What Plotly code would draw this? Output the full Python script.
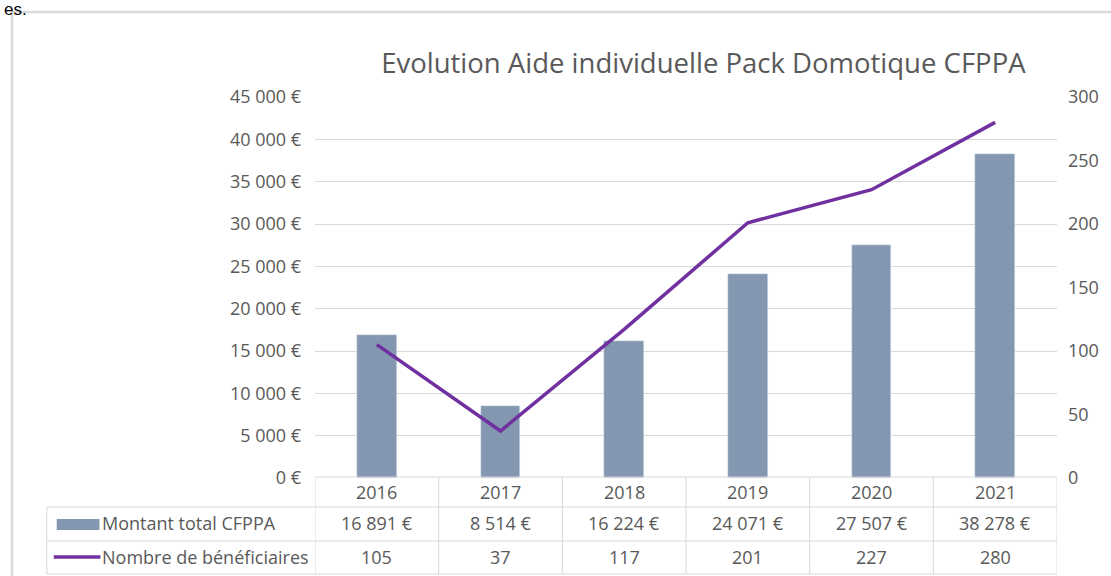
import plotly.graph_objects as go

# Data
years = ["2016", "2017", "2018", "2019", "2020", "2021"]
montant = [16891, 8514, 16224, 24071, 27507, 38278]
beneficiaires = [105, 37, 117, 201, 227, 280]
montant_labels = ["16 891 €", "8 514 €", "16 224 €", "24 071 €", "27 507 €", "38 278 €"]
left_ticks = [0, 5000, 10000, 15000, 20000, 25000, 30000, 35000, 40000, 45000]
left_tick_text = ["0 €", "5 000 €", "10 000 €", "15 000 €", "20 000 €", "25 000 €",
                  "30 000 €", "35 000 €", "40 000 €", "45 000 €"]
right_ticks = [0, 50, 100, 150, 200, 250, 300]
series_names = ["Montant total CFPPA", "Nombre de bénéficiaires"]
title_text = "Evolution Aide individuelle Pack Domotique CFPPA"

BAR_COLOR = "#8497B0"
LINE_COLOR = "#7030A0"
TEXT_COLOR = "#595959"
GRID_COLOR = "#D9D9D9"
FONT = "Open Sans"

W, H = 1111, 576
L, R, T, B = 315, 49, 97, 98
PW, PH = W - L - R, H - T - B


def px(x):
    return (x - L) / PW


def py(y):
    return 1 + (T - y) / PH


fig = go.Figure()
fig.add_trace(go.Bar(x=years, y=montant, name=series_names[0], marker_color=BAR_COLOR,
                     width=0.32, yaxis="y"))
fig.add_trace(go.Scatter(x=years, y=beneficiaires, name=series_names[1], mode="lines",
                         line=dict(color=LINE_COLOR, width=3.5), yaxis="y2"))

shapes = []
annotations = []
line_style = dict(color=GRID_COLOR, width=1)

# data table grid
row_y = [477, 507, 541, 574]
shapes.append(dict(type="line", xref="paper", yref="paper", x0=0, x1=1,
                   y0=py(row_y[0]), y1=py(row_y[0]), line=line_style))
for yy in row_y[1:]:
    shapes.append(dict(type="line", xref="paper", yref="paper", x0=px(45), x1=1,
                       y0=py(yy), y1=py(yy), line=line_style))
shapes.append(dict(type="line", xref="paper", yref="paper", x0=px(45), x1=px(45),
                   y0=py(row_y[1]), y1=py(row_y[3]), line=line_style))
for k in range(len(years) + 1):
    shapes.append(dict(type="line", xref="x", yref="paper", x0=k - 0.5, x1=k - 0.5,
                       y0=py(row_y[0]), y1=py(row_y[3]), line=line_style))

# outer chart frame
shapes.append(dict(type="rect", xref="paper", yref="paper", x0=px(10), x1=px(1130),
                   y0=py(600), y1=py(12), line=dict(color="#D9D9D9", width=2.5)))

# legend keys in the table
shapes.append(dict(type="rect", xref="paper", yref="paper", x0=px(55), x1=px(98),
                   y0=py(530), y1=py(519), fillcolor=BAR_COLOR, line=dict(width=0)))
shapes.append(dict(type="line", xref="paper", yref="paper", x0=px(52), x1=px(99),
                   y0=py(557), y1=py(557), line=dict(color=LINE_COLOR, width=3.5)))

cell_font = dict(family=FONT, size=18, color=TEXT_COLOR)
row_centers = [492, 523, 557]
for i, yr in enumerate(years):
    annotations.append(dict(x=i, xref="x", y=py(row_centers[0]), yref="paper", text=yr,
                            showarrow=False, font=cell_font, yanchor="middle"))
    annotations.append(dict(x=i, xref="x", y=py(row_centers[1]), yref="paper",
                            text=montant_labels[i], showarrow=False, font=cell_font,
                            yanchor="middle"))
    annotations.append(dict(x=i, xref="x", y=py(row_centers[2]), yref="paper",
                            text=str(beneficiaires[i]), showarrow=False, font=cell_font,
                            yanchor="middle"))
for name, yc in zip(series_names, row_centers[1:]):
    annotations.append(dict(x=px(99), xref="paper", y=py(yc), yref="paper", text=name,
                            showarrow=False, font=cell_font, xanchor="left",
                            yanchor="middle"))

# caption fragment above the frame
annotations.append(dict(x=px(0), xref="paper", y=py(-2), yref="paper", text="es.",
                        showarrow=False, xanchor="left", yanchor="top",
                        font=dict(family="Liberation Sans", size=17, color="#000000")))

fig.update_layout(
    width=W, height=H,
    margin=dict(l=L, r=R, t=T, b=B),
    paper_bgcolor="white", plot_bgcolor="white",
    showlegend=False,
    bargap=0,
    title=dict(text=title_text, x=px(706), xref="paper", xanchor="center",
               y=1 - 63 / H, yanchor="middle",
               font=dict(family=FONT, size=27.5, color=TEXT_COLOR)),
    xaxis=dict(type="category", range=[-0.5, 5.5], showticklabels=False,
               showgrid=False, zeroline=False, showline=False, ticks=""),
    yaxis=dict(range=[0, 45000], tickvals=left_ticks, ticktext=left_tick_text,
               showgrid=True, gridcolor=GRID_COLOR, gridwidth=1, zeroline=False,
               showline=False, ticklabelstandoff=13,
               tickfont=dict(family=FONT, size=18, color=TEXT_COLOR)),
    yaxis2=dict(range=[0, 300], tickvals=right_ticks, overlaying="y", side="right",
                showgrid=False, zeroline=False, showline=False, ticklabelstandoff=10,
                tickfont=dict(family=FONT, size=18, color=TEXT_COLOR)),
    shapes=shapes,
    annotations=annotations,
)

fig.write_html("out.html")
